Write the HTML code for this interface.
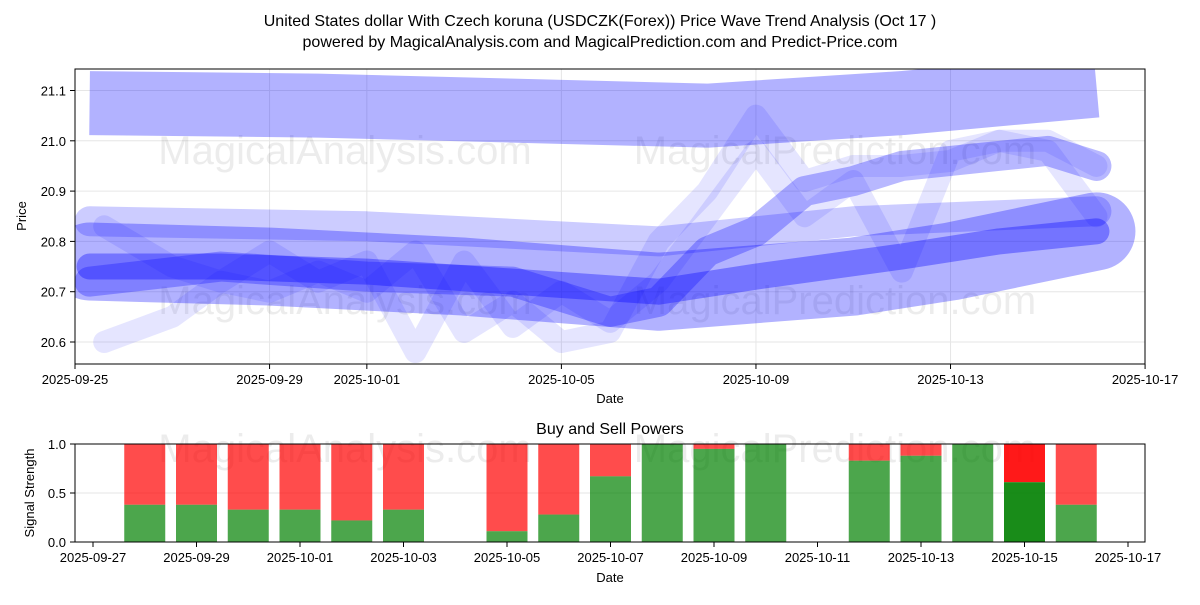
<!DOCTYPE html>
<html><head><meta charset="utf-8"><style>
body{margin:0;background:#fff;font-family:"Liberation Sans","DejaVu Sans",sans-serif}
svg text{font-family:"Liberation Sans","DejaVu Sans",sans-serif;fill:#000}
</style></head><body>
<svg id="c" width="1200" height="600" viewBox="0 0 1200 600">
<text x="600" y="26" font-size="16" text-anchor="middle">United States dollar With Czech koruna (USDCZK(Forex)) Price Wave Trend Analysis (Oct 17 )</text>
<text x="600" y="47" font-size="16" text-anchor="middle">powered by MagicalAnalysis.com and MagicalPrediction.com and Predict-Price.com</text>
<defs><clipPath id="cp1"><rect x="75" y="69" width="1070" height="295"/></clipPath></defs>
<g id="topg" clip-path="url(#cp1)"></g>
<g id="topaxes"></g>
<g id="bot"></g>
</svg>
<script>
const NS='http://www.w3.org/2000/svg';
function mk(t,a,p){const e=document.createElementNS(NS,t);for(const k in a)e.setAttribute(k,a[k]);p.appendChild(e);return e;}
// ---- price chart data ----
const yTicks=[20.6,20.7,20.8,20.9,21.0,21.1];
const xTickLabels=['2025-09-25','2025-09-29','2025-10-01','2025-10-05','2025-10-09','2025-10-13','2025-10-17'];
const xTickDays=[0,4,6,10,14,18,22];
const bandADays=[0.3,5,9,13,17,21];
const bandAVals=[21.075,21.07,21.06,21.05,21.075,21.11];
const bandBDays=[0.3,4,8,12,16,18,21];
const bandBVals=[20.76,20.75,20.73,20.70,20.73,20.76,20.82];
const bandCDays=[0.3,3,6,9,12,14,17,19,21];
const bandCVals=[20.75,20.75,20.74,20.72,20.70,20.73,20.77,20.80,20.82];
const bandDDays=[0.3,3,6,9,11,12,13,14,15,16,17,18,19,20,21];
const bandDVals=[20.72,20.75,20.73,20.72,20.66,20.68,20.78,20.82,20.9,20.92,20.95,20.96,20.97,20.98,20.95];
const bandEDays=[0.6,2,3,4,5,6,7,8,9,10,11,12,13,14,15,16,17,18,19,20,21];
const bandEVals=[20.83,20.75,20.72,20.78,20.72,20.76,20.58,20.76,20.63,20.70,20.64,20.72,20.85,20.98,20.85,20.92,20.74,20.98,21.0,20.98,20.85];
const bandFDays=[0.6,2,3,4,5,6,7,8,9,10,11,12,13,14,15,16,17,18,19,20,21];
const bandFVals=[20.60,20.65,20.72,20.70,20.74,20.70,20.78,20.62,20.68,20.60,20.62,20.80,20.90,21.05,20.92,20.95,20.95,20.96,21.0,21.0,20.95];
const bandGDays=[0.3,6,12,16,21];
const bandGVals=[20.84,20.83,20.80,20.84,20.86];
// ---- power chart data ----
const barDays=[1,2,3,4,5,6,8,9,10,11,12,13,15,16,17,18,19];
const buyVals=[0.38,0.38,0.33,0.33,0.22,0.33,0.11,0.28,0.67,1.0,0.95,1.0,0.83,0.88,1.0,0.61,0.38];
const bTickLabels=['2025-09-27','2025-09-29','2025-10-01','2025-10-03','2025-10-05','2025-10-07','2025-10-09','2025-10-11','2025-10-13','2025-10-15','2025-10-17'];
const bTickDays=[0,2,4,6,8,10,12,14,16,18,20];
const bYTicks=[0.0,0.5,1.0];

const X=d=>75+d*48.64, Y=v=>342-(v-20.6)*503;
const topG=document.getElementById('topg'), ta=document.getElementById('topaxes');
yTicks.forEach(v=>{const l=mk('line',{x1:75,x2:1145,y1:Y(v),y2:Y(v),stroke:'#e6e6e6'},topG);});
xTickDays.forEach(d=>{const l=mk('line',{x1:X(d),x2:X(d),y1:69,y2:364,stroke:'#e6e6e6'},topG);});
[[345,150],[835,150],[345,300],[835,300]].forEach((p,i)=>{const t=mk('text',{x:p[0],y:p[1]+14,'font-size':40,'text-anchor':'middle',fill:'#000',opacity:0.07},topG);t.textContent=i%2?'MagicalPrediction.com':'MagicalAnalysis.com';});
function band(days,vals,w,op,name,cap){const p=mk('polyline',{points:days.map((d,i)=>X(d)+','+Y(vals[i])).join(' '),fill:'none',stroke:'#0000ff','stroke-width':w,'stroke-opacity':op,'stroke-linejoin':'round','stroke-linecap':cap||'round'},topG);}
band(bandADays,bandAVals,64,0.3,'wave-band-upper','butt');
band(bandBDays,bandBVals,78,0.3,'wave-band-wide');
band(bandGDays,bandGVals,30,0.2,'wave-band-flat');
band(bandFDays,bandFVals,22,0.1,'wave-line-f');
band(bandEDays,bandEVals,22,0.1,'wave-line-e');
band(bandDDays,bandDVals,30,0.28,'wave-band-d');
band(bandCDays,bandCVals,26,0.35,'wave-band-core');
mk('rect',{x:75,y:69,width:1070,height:295,fill:'none',stroke:'#000','stroke-width':1},ta);
yTicks.forEach(v=>{mk('line',{x1:70,x2:75,y1:Y(v),y2:Y(v),stroke:'#000'},ta);const t=mk('text',{x:66,y:Y(v)+5,'font-size':13,'text-anchor':'end'},ta);t.textContent=v.toFixed(1);});
xTickDays.forEach((d,i)=>{mk('line',{x1:X(d),x2:X(d),y1:364,y2:369,stroke:'#000'},ta);const t=mk('text',{x:X(d),y:384,'font-size':13,'text-anchor':'middle'},ta);t.textContent=xTickLabels[i];});
let t=mk('text',{x:610,y:403,'font-size':13,'text-anchor':'middle'},ta);t.textContent='Date';
t=mk('text',{x:26,y:216,'font-size':13,'text-anchor':'middle',transform:'rotate(-90 26 216)'},ta);t.textContent='Price';
const bot=document.getElementById('bot');
const BX=d=>93+d*51.75, BY=v=>542-v*98;
bYTicks.forEach(v=>{const l=mk('line',{x1:75,x2:1145,y1:BY(v),y2:BY(v),stroke:'#e6e6e6'},bot);});
[[345,450],[835,450]].forEach((p,i)=>{const w=mk('text',{x:p[0],y:p[1]+12,'font-size':40,'text-anchor':'middle',fill:'#000',opacity:0.07},bot);w.textContent=i?'MagicalPrediction.com':'MagicalAnalysis.com';});
barDays.forEach((d,i)=>{const cx=BX(d),b=buyVals[i],last=i===barDays.length-2;
const s=mk('rect',{x:cx-20.5,y:BY(1),width:41,height:BY(b)-BY(1),fill:'#ff0000','fill-opacity':last?0.9:0.7},bot);
const g=mk('rect',{x:cx-20.5,y:BY(b),width:41,height:BY(0)-BY(b),fill:'#008000','fill-opacity':last?0.9:0.7},bot);});
mk('rect',{x:75,y:444,width:1070,height:98,fill:'none',stroke:'#000'},bot);
bYTicks.forEach(v=>{mk('line',{x1:70,x2:75,y1:BY(v),y2:BY(v),stroke:'#000'},bot);const l=mk('text',{x:66,y:BY(v)+5,'font-size':13,'text-anchor':'end'},bot);l.textContent=v.toFixed(1);});
bTickDays.forEach((d,i)=>{mk('line',{x1:BX(d),x2:BX(d),y1:542,y2:547,stroke:'#000'},bot);const l=mk('text',{x:BX(d),y:562,'font-size':13,'text-anchor':'middle'},bot);l.textContent=bTickLabels[i];});
t=mk('text',{x:610,y:434,'font-size':16,'text-anchor':'middle'},bot);t.textContent='Buy and Sell Powers';
t=mk('text',{x:610,y:582,'font-size':13,'text-anchor':'middle'},bot);t.textContent='Date';
t=mk('text',{x:34,y:493,'font-size':13,'text-anchor':'middle',transform:'rotate(-90 34 493)'},bot);t.textContent='Signal Strength';
</script>
</body></html>
